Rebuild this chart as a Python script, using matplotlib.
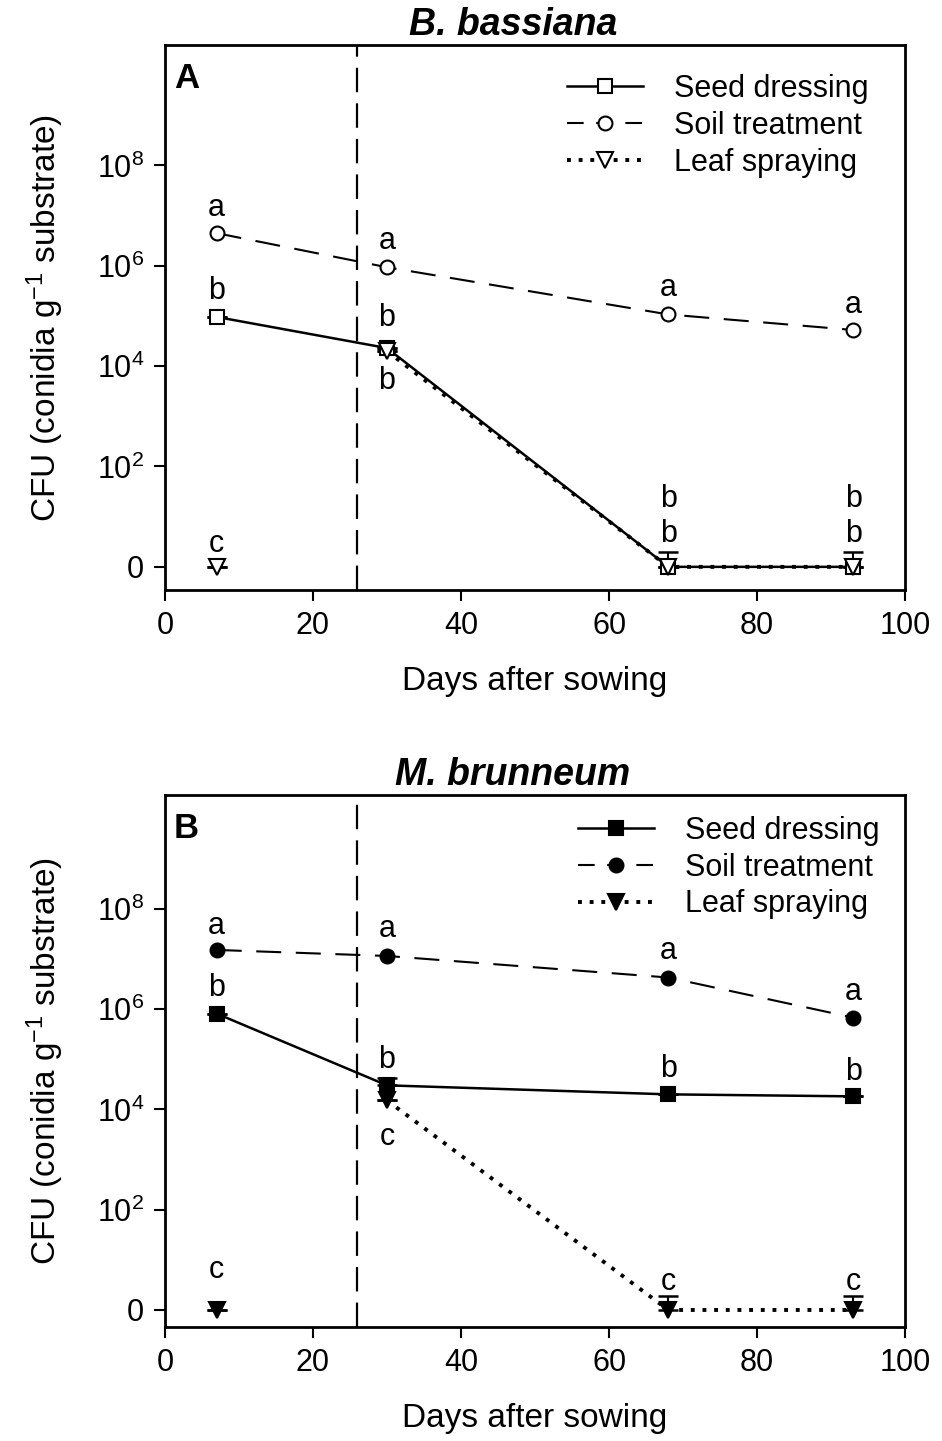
import numpy as np
import matplotlib
matplotlib.use("Agg")
import matplotlib.pyplot as plt
from matplotlib.lines import Line2D

plt.rcParams['font.family'] = ['Liberation Sans', 'DejaVu Sans']
plt.rcParams['mathtext.fontset'] = 'custom'
plt.rcParams['mathtext.rm'] = 'Liberation Sans'
plt.rcParams['mathtext.it'] = 'Liberation Sans:italic'

# ---- data (log10 CFU; 0 = not detected) ----
days = [7, 30, 68, 93]
application_day = 26

titles = ["B. bassiana", "M. brunneum"]
panel_letters = ["A", "B"]

A_seed = [4.98, 4.36, 0.0, 0.0]
A_soil = [6.65, 5.97, 5.03, 4.72]
A_leaf = [0.0, 4.30, 0.0, 0.0]
A_leaf_err = [0.0, 0.0, 0.30, 0.30]

B_seed = [5.91, 4.48, 4.30, 4.26]
B_seed_err = [0.0, 0.15, 0.0, 0.0]
B_soil = [7.18, 7.06, 6.63, 5.83]
B_leaf = [0.0, 4.18, 0.0, 0.0]
B_leaf_err = [0.0, 0.0, 0.28, 0.28]

# significance letters: (day, log position, letter)
A_letters = [(7, 7.15, "a"), (7, 5.50, "b"), (7, 0.45, "c"),
             (30, 6.50, "a"), (30, 4.95, "b"), (30, 3.70, "b"),
             (68, 5.55, "a"), (68, 1.35, "b"), (68, 0.65, "b"),
             (93, 5.22, "a"), (93, 1.35, "b"), (93, 0.65, "b")]
B_letters = [(7, 7.65, "a"), (7, 6.42, "b"), (7, 0.80, "c"),
             (30, 7.60, "a"), (30, 4.98, "b"), (30, 3.45, "c"),
             (68, 7.15, "a"), (68, 4.80, "b"), (68, 0.55, "c"),
             (93, 6.35, "a"), (93, 4.75, "b"), (93, 0.55, "c")]

ytick_vals = [0, 2, 4, 6, 8]
ytick_labels = ["0", r"$10^{2}$", r"$10^{4}$", r"$10^{6}$", r"$10^{8}$"]
xtick_vals = [0, 20, 40, 60, 80, 100]
legend_labels = ["Seed dressing", "Soil treatment", "Leaf spraying"]

fig = plt.figure(figsize=(9.42, 14.41), dpi=100)
axA = fig.add_axes([0.175, 0.5906, 0.786, 0.3782])
axB = fig.add_axes([0.175, 0.0791, 0.786, 0.3692])

panels = [
    (axA, A_seed, [0, 0, 0, 0], A_soil, A_leaf, A_leaf_err, A_letters, 'white', (-0.46, 10.4), (0.975, 0.98)),
    (axB, B_seed, B_seed_err, B_soil, B_leaf, B_leaf_err, B_letters, 'black', (-0.34, 10.27), (0.99, 0.995)),
]

FS = 22
ms = 10
soil_ls = (0, (12, 7))
leaf_ls = (0, (1, 2.0))
for i, (ax, seed, seed_err, soil, leaf, leaf_err, letters, fc, ylim, anchor) in enumerate(panels):
    ax.axvline(application_day, color='black', lw=1.6, ls=(0, (11, 5)), zorder=1)
    # soil
    ax.plot(days, soil, color='black', lw=1.5, ls=soil_ls, marker='o',
            ms=ms, mfc=fc, mec='black', mew=1.5, zorder=3)
    # leaf: line only after spraying
    ax.errorbar(days, leaf, yerr=[[0]*4, leaf_err], fmt='none', ecolor='black',
                elinewidth=1.5, capsize=7, capthick=1.8, zorder=2)
    ax.plot(days[1:], leaf[1:], color='black', lw=2.8, ls=leaf_ls, zorder=2)
    ax.plot(days, leaf, ls='none', marker='v', ms=ms + 1, mfc=fc, mec='black',
            mew=1.5, zorder=4)
    # seed
    ax.errorbar(days, seed, yerr=[[0]*4, seed_err], fmt='none', ecolor='black',
                elinewidth=1.5, capsize=7, capthick=1.8, zorder=2)
    ax.plot(days, seed, color='black', lw=1.8, ls='-', marker='s', ms=ms,
            mfc=fc, mec='black', mew=1.5, zorder=3)

    for d, yv, t in letters:
        ax.text(d, yv, t, ha='center', va='center', fontsize=FS)

    ax.set_xlim(0, 100)
    ax.set_ylim(*ylim)
    ax.set_xticks(xtick_vals)
    ax.set_yticks(ytick_vals)
    ax.set_yticklabels(ytick_labels)
    ax.tick_params(axis='both', direction='out', length=8, width=1.5,
                   labelsize=FS, pad=7)
    for s in ax.spines.values():
        s.set_linewidth(2)
    ax.set_xlabel("Days after sowing", fontsize=FS + 2, labelpad=18)
    ax.set_ylabel(r"CFU (conidia g$^{-1}$ substrate)", fontsize=FS + 2, labelpad=22)
    ax.set_title(titles[i], fontsize=FS + 5, fontweight='bold', style='italic',
                 x=0.47, pad=7)
    ax.text(0.012, 0.968, panel_letters[i], transform=ax.transAxes, fontsize=FS + 3,
            fontweight='bold', va='top', ha='left')

    handles = [
        Line2D([], [], color='black', lw=1.8, ls='-', marker='s', ms=ms, mfc=fc, mec='black', mew=1.5),
        Line2D([], [], color='black', lw=1.5, ls=(0, (8, 6)), marker='o', ms=ms, mfc=fc, mec='black', mew=1.5),
        Line2D([], [], color='black', lw=2.8, ls=leaf_ls, marker='v', ms=ms + 1, mfc=fc, mec='black', mew=1.5),
    ]
    ax.legend(handles, legend_labels, loc='upper right', bbox_to_anchor=anchor,
              frameon=False, fontsize=FS, handlelength=2.5, handletextpad=1.0,
              labelspacing=0.22, borderaxespad=0.2)

fig.savefig("out.png", dpi=100)
